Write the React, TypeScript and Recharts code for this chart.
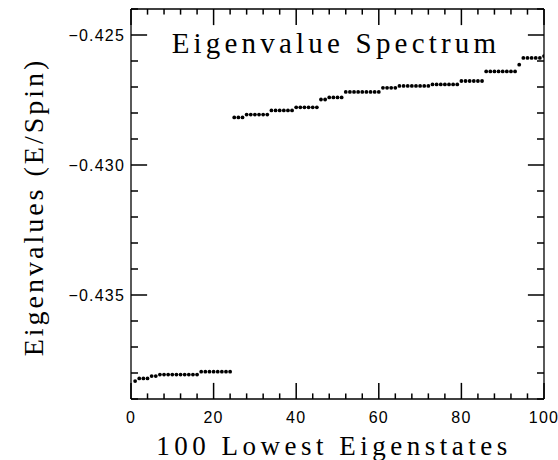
import React from 'react';
import { ScatterChart, Scatter, XAxis, YAxis, ReferenceLine } from 'recharts';

// 100 lowest eigenstates (state index) and their eigenvalues (E/Spin)
const stateIndex = Array.from({ length: 100 }, (_, i) => i + 1);

const eigenvalues = [
  -0.43831,
  -0.43821, -0.43821, -0.43821,
  -0.43812, -0.43812,
  -0.43806, -0.43806, -0.43806, -0.43806, -0.43806, -0.43806, -0.43806, -0.43806, -0.43806, -0.43806,
  -0.43795, -0.43795, -0.43795, -0.43795, -0.43795, -0.43795, -0.43795, -0.43795,
  -0.42817, -0.42817, -0.42817,
  -0.42806, -0.42806, -0.42806, -0.42806, -0.42806, -0.42806,
  -0.4279, -0.4279, -0.4279, -0.4279, -0.4279, -0.4279,
  -0.42778, -0.42778, -0.42778, -0.42778, -0.42778, -0.42778,
  -0.42748, -0.42748,
  -0.4274, -0.4274, -0.4274, -0.4274,
  -0.42719, -0.42719, -0.42719, -0.42719, -0.42719, -0.42719, -0.42719, -0.42719, -0.42719,
  -0.42703, -0.42703, -0.42703, -0.42703,
  -0.42696, -0.42696, -0.42696, -0.42696, -0.42696, -0.42696, -0.42696, -0.42696,
  -0.4269, -0.4269, -0.4269, -0.4269, -0.4269, -0.4269, -0.4269,
  -0.42677, -0.42677, -0.42677, -0.42677, -0.42677, -0.42677,
  -0.4264, -0.4264, -0.4264, -0.4264, -0.4264, -0.4264, -0.4264, -0.4264,
  -0.42614,
  -0.42588, -0.42588, -0.42588, -0.42588, -0.42588,
  -0.42581,
];

const xMajorTicks = [0, 20, 40, 60, 80, 100];
const xAllTicks = [0, 4, 8, 12, 16, 20, 24, 28, 32, 36, 40, 44, 48, 52, 56, 60, 64, 68, 72, 76, 80, 84, 88, 92, 96, 100];
const yMajorTicks = [-0.435, -0.43, -0.425];
const yAllTicks = [-0.439, -0.438, -0.437, -0.436, -0.435, -0.434, -0.433, -0.432, -0.431, -0.43, -0.429, -0.428, -0.427, -0.426, -0.425, -0.424];
const xDomain = [0, 100];
const yDomain = [-0.439, -0.424];

const titleText = 'Eigenvalue Spectrum';
const xTitle = '100 Lowest Eigenstates';
const yTitle = 'Eigenvalues (E/Spin)';

const data = stateIndex.map((x, i) => ({ x, y: eigenvalues[i] }));

// layout
const W = 558;
const H = 460;
const PLOT_LEFT = 131;
const PLOT_RIGHT = 544;
const PLOT_TOP = 9;
const PLOT_BOTTOM = 399;

// tick-mark lengths expressed in data units (≈16 px major, ≈6-7 px minor)
const X_MAJOR_LEN = 3.9;
const X_MINOR_LEN = 1.7;
const Y_MAJOR_LEN = 0.00062;
const Y_MINOR_LEN = 0.00024;

const SERIF = '"Liberation Serif", "Times New Roman", serif';
const SANS = '"Liberation Sans", Arial, sans-serif';
const frameStyle = { stroke: '#000', strokeWidth: 1.3 };
const TICK_COLOR = '#000';

const fmtY = (v: number) => v.toFixed(3).replace('-', '\u2212');
const isMajor = (list: number[], v: number) => list.some((m) => Math.abs(m - v) < 1e-9);

const XTick = (p: any) => {
  const v = p.payload.value;
  if (!isMajor(xMajorTicks, v)) return <g />;
  return (
    <text x={p.x} y={p.y} dy="0.71em" textAnchor="middle" fontFamily={SANS} fontSize={16} letterSpacing={1.2} fill="#000">
      {String(v)}
    </text>
  );
};

const YTick = (p: any) => {
  const v = p.payload.value;
  if (!isMajor(yMajorTicks, v)) return <g />;
  return (
    <text x={p.x} y={p.y} dy="0.355em" textAnchor="end" fontFamily={SANS} fontSize={16} letterSpacing={1.2} fill="#000">
      {fmtY(v)}
    </text>
  );
};

const Dot = (p: any) => <circle cx={p.cx} cy={p.cy} r={1.9} fill="#000" />;

export default function App() {
  const [y0, y1] = yDomain;
  const [x0, x1] = xDomain;
  return (
    <div style={{ position: 'absolute', left: 0, top: 0 }}>
      <ScatterChart
        width={W}
        height={H}
        margin={{ top: PLOT_TOP, right: W - PLOT_RIGHT, bottom: 0, left: 0 }}
      >
        <XAxis
          xAxisId="main"
          dataKey="x"
          type="number"
          domain={xDomain}
          ticks={xAllTicks}
          interval={0}
          allowDataOverflow
          height={H - PLOT_BOTTOM}
          tickLine={false}
          tickSize={0}
          tickMargin={13}
          axisLine={frameStyle}
          tick={XTick}
        />
        <YAxis
          yAxisId="main"
          dataKey="y"
          type="number"
          domain={yDomain}
          ticks={yAllTicks}
          interval={0}
          allowDataOverflow
          width={PLOT_LEFT}
          tickLine={false}
          tickSize={0}
          tickMargin={6}
          axisLine={frameStyle}
          tick={YTick}
        />

        {/* top and right frame lines */}
        <ReferenceLine xAxisId="main" yAxisId="main" y={y1} stroke="#000" strokeWidth={1.3} ifOverflow="visible" />
        <ReferenceLine xAxisId="main" yAxisId="main" x={x1} stroke="#000" strokeWidth={1.3} ifOverflow="visible" />

        {/* inward tick marks on bottom and top */}
        {xAllTicks.map((t) => {
          const len = isMajor(xMajorTicks, t) ? Y_MAJOR_LEN : Y_MINOR_LEN * 0.9;
          return (
            <ReferenceLine
              key={'xb' + t}
              xAxisId="main"
              yAxisId="main"
              segment={[{ x: t, y: y0 }, { x: t, y: y0 + len }]}
              stroke={TICK_COLOR}
              strokeWidth={1.5}
              ifOverflow="visible"
            />
          );
        })}
        {xAllTicks.map((t) => {
          const len = isMajor(xMajorTicks, t) ? Y_MAJOR_LEN : Y_MINOR_LEN * 0.9;
          return (
            <ReferenceLine
              key={'xt' + t}
              xAxisId="main"
              yAxisId="main"
              segment={[{ x: t, y: y1 }, { x: t, y: y1 - len }]}
              stroke={TICK_COLOR}
              strokeWidth={1.5}
              ifOverflow="visible"
            />
          );
        })}
        {/* inward tick marks on left and right */}
        {yAllTicks.map((t) => {
          const len = isMajor(yMajorTicks, t) ? X_MAJOR_LEN : X_MINOR_LEN;
          return (
            <ReferenceLine
              key={'yl' + t}
              xAxisId="main"
              yAxisId="main"
              segment={[{ x: x0, y: t }, { x: x0 + len, y: t }]}
              stroke={TICK_COLOR}
              strokeWidth={1.5}
              ifOverflow="visible"
            />
          );
        })}
        {yAllTicks.map((t) => {
          const len = isMajor(yMajorTicks, t) ? X_MAJOR_LEN : X_MINOR_LEN;
          return (
            <ReferenceLine
              key={'yr' + t}
              xAxisId="main"
              yAxisId="main"
              segment={[{ x: x1, y: t }, { x: x1 - len, y: t }]}
              stroke={TICK_COLOR}
              strokeWidth={1.5}
              ifOverflow="visible"
            />
          );
        })}

        <Scatter
          data={data}
          dataKey="y"
          xAxisId="main"
          yAxisId="main"
          isAnimationActive={false}
          shape={Dot}
          fill="#000"
        />

        <g>
          <text x={336} y={53} textAnchor="middle" fontFamily={SERIF} fontSize={29} letterSpacing={4.2} fill="#000">
            {titleText}
          </text>
          <text x={334} y={455} textAnchor="middle" fontFamily={SERIF} fontSize={27} letterSpacing={4.5} fill="#000">
            {xTitle}
          </text>
          <text x={43} y={207} transform="rotate(-90, 43, 207)" textAnchor="middle" fontFamily={SERIF} fontSize={28} letterSpacing={3} fill="#000">
            {yTitle}
          </text>
        </g>
      </ScatterChart>
    </div>
  );
}
